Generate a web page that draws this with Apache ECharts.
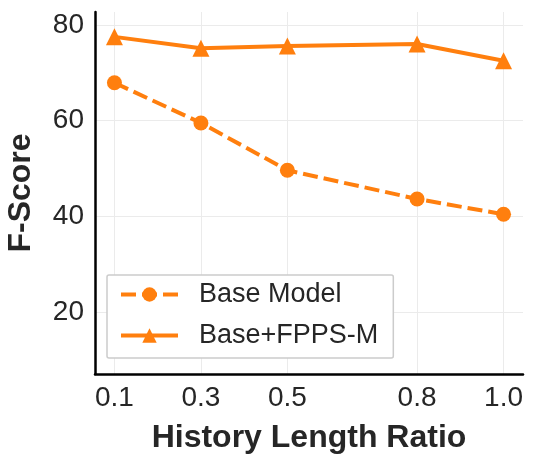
<!DOCTYPE html>
<html>
<head>
<meta charset="utf-8">
<script src="https://cdn.jsdelivr.net/npm/echarts@6/dist/echarts.min.js"></script>
<style>
  html, body { margin: 0; padding: 0; background: #fff; }
  #chart { width: 536px; height: 463px; }
</style>
</head>
<body>
<div id="chart"></div>
<script>
// data
var ratios = [0.1, 0.3, 0.5, 0.8, 1.0]
var baseModel = [67.9, 59.5, 49.6, 43.6, 40.4]
var fppsModel = [77.5, 75.1, 75.6, 76.0, 72.5]
var xTicks = [0.1, 0.3, 0.5, 0.8, 1.0]
var yTicks = [20, 40, 60, 80]

var orange = '#ff7f0e'
var textColor = '#262626'
var font = '"Liberation Sans", Arial, sans-serif'

function pairs(xs, ys) {
  return xs.map(function (x, i) { return [x, ys[i]] })
}

var chart = echarts.init(document.getElementById('chart'))
chart.setOption({
  animation: false,
  textStyle: { fontFamily: font },
  grid: { left: 95, right: 13, top: 12, bottom: 89, containLabel: false, outerBoundsMode: 'none' },
  xAxis: {
    type: 'value',
    min: 0.055,
    max: 1.045,
    name: 'History Length Ratio',
    nameLocation: 'middle',
    nameGap: 48,
    nameTextStyle: { fontSize: 32, fontWeight: 'bold', color: textColor, fontFamily: font },
    axisLine: { show: true, onZero: false, lineStyle: { color: '#000', width: 2.5 } },
    axisTick: { show: false, customValues: xTicks },
    axisLabel: {
      customValues: xTicks,
      fontSize: 28, color: textColor, margin: 10,
      formatter: function (v) { return v.toFixed(1) }
    },
    splitLine: { show: true, lineStyle: { color: '#ebebeb', width: 1 } }
  },
  yAxis: {
    type: 'value',
    min: 7,
    max: 82.7,
    name: 'F-Score',
    nameLocation: 'middle',
    nameGap: 58,
    nameTextStyle: { fontSize: 32, fontWeight: 'bold', color: textColor, fontFamily: font },
    axisLine: { show: true, onZero: false, lineStyle: { color: '#000', width: 2.5 } },
    axisTick: { show: false, customValues: yTicks },
    axisLabel: { customValues: yTicks, fontSize: 28, color: textColor, margin: 11 },
    splitLine: { show: true, lineStyle: { color: '#ebebeb', width: 1 } }
  },
  legend: {
    left: 107,
    top: 275,
    orient: 'vertical',
    itemWidth: 57,
    itemHeight: 18,
    itemGap: 14,
    padding: [6, 15, 9, 12],
    backgroundColor: '#fff',
    borderColor: '#cccccc',
    borderWidth: 1.5,
    borderRadius: 2,
    lineStyle: { width: 4 },
    textStyle: { fontSize: 27, color: textColor, lineHeight: 27, fontFamily: font, padding: [0, 0, 0, 16] },
    data: ['Base Model', 'Base+FPPS-M']
  },
  series: [
    {
      name: 'Base Model',
      type: 'line',
      data: pairs(ratios, baseModel),
      symbol: 'circle',
      symbolSize: 15,
      itemStyle: { color: orange },
      lineStyle: { color: orange, width: 4, type: [15, 6] },
      z: 3
    },
    {
      name: 'Base+FPPS-M',
      type: 'line',
      data: pairs(ratios, fppsModel),
      symbol: 'triangle',
      symbolSize: 17,
      itemStyle: { color: orange },
      lineStyle: { color: orange, width: 4 },
      z: 3
    }
  ]
})
</script>
</body>
</html>
